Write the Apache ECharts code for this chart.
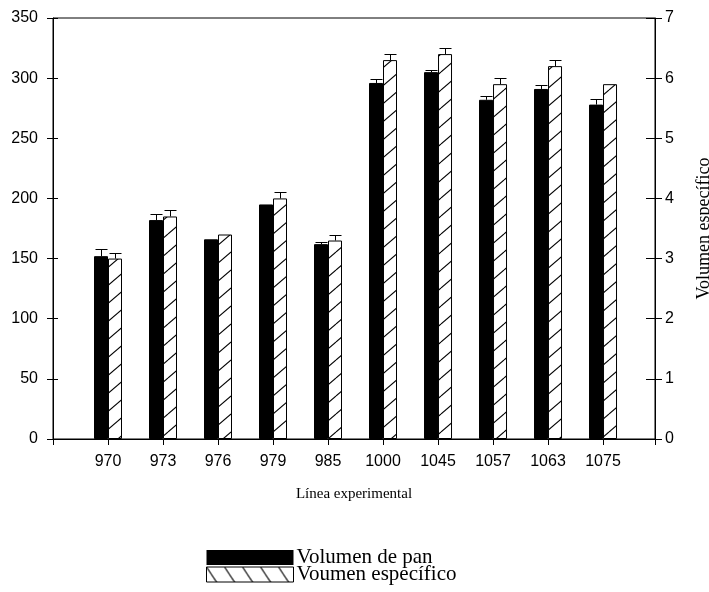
<!DOCTYPE html>
<html>
<head>
<meta charset="utf-8">
<script src="https://cdn.jsdelivr.net/npm/echarts@6/dist/echarts.min.js"></script>
<style>
html,body{margin:0;padding:0;background:#fff;}
#chart{width:709px;height:592px;}
</style>
</head>
<body>
<div id="chart"></div>
<script>
const categories = ['970','973','976','979','985','1000','1045','1057','1063','1075'];
const volPan = [152, 182, 166, 195, 162, 296, 305, 282, 291, 278];
const volPanErr = [6, 5, 0, 0, 2, 3, 1.5, 3, 3, 5];
const volEsp = [3.0, 3.7, 3.4, 4.0, 3.3, 6.3, 6.4, 5.9, 6.2, 5.9];
const volEspErr = [0.1, 0.1, 0, 0.1, 0.1, 0.1, 0.1, 0.1, 0.1, 0];
const leftTicks = [0, 350, 50];
const rightTicks = [0, 7, 1];

function hatch(w, h, back) {
  const c = document.createElement('canvas');
  c.width = w; c.height = h;
  const g = c.getContext('2d');
  g.fillStyle = '#fff';
  g.fillRect(0, 0, w, h);
  g.strokeStyle = '#000';
  g.lineWidth = 1.1;
  for (let k = -1; k <= 1; k++) {
    g.beginPath();
    if (!back) { g.moveTo(0, h + k * h); g.lineTo(w, k * h); }
    else { g.moveTo(0, k * h); g.lineTo(w, h + k * h); }
    g.stroke();
  }
  return c;
}
const barPattern = { image: hatch(21, 18, false), repeat: 'repeat' };
const legendPattern = { image: hatch(18, 27, true), repeat: 'repeat' };

const xMax = 10.945;
const panData = volPan.map((v, i) => [i + 1, v]);
const espData = volEsp.map((v, i) => [i + 1, v]);
const panErrData = volPan.map((v, i) => [i + 1, v, volPanErr[i]]);
const espErrData = volEsp.map((v, i) => [i + 1, v, volEspErr[i]]);

function errRender(offset) {
  return function (params, api) {
    const x = api.value(0), y = api.value(1), e = api.value(2);
    if (!e) return;
    const top = api.coord([x, y + e]);
    const base = api.coord([x, y]);
    const cx = Math.round(top[0] + offset) + 0.5;
    const ty = Math.round(top[1]) + 0.5;
    const st = { stroke: '#000', lineWidth: 1 };
    return {
      type: 'group',
      children: [
        { type: 'line', shape: { x1: cx, y1: base[1], x2: cx, y2: ty }, style: st },
        { type: 'line', shape: { x1: cx - 6, y1: ty, x2: cx + 6, y2: ty }, style: st }
      ]
    };
  };
}

const sans = 'Liberation Sans';
const serif = 'Liberation Serif';
const axisLineStyle = { color: '#000', width: 1 };

const chart = echarts.init(document.getElementById('chart'));
chart.setOption({
  animation: false,
  backgroundColor: '#fff',
  grid: { left: 53, right: 54, top: 18, bottom: 153, outerBoundsMode: 'none', containLabel: false, show: true, borderColor: '#000', borderWidth: 1, backgroundColor: 'transparent' },
  legend: {
    orient: 'vertical',
    left: 206, top: 547, padding: 0,
    itemWidth: 87, itemHeight: 15, itemGap: -4,
    textStyle: { fontFamily: serif, fontSize: 21, lineHeight: 17, color: '#000', padding: [0, 0, 0, -2] },
    data: [
      { name: 'Volumen de pan', icon: 'rect', itemStyle: { color: '#000', borderWidth: 0 } },
      { name: 'Voumen específico', icon: 'rect', itemStyle: { color: legendPattern, borderColor: '#000', borderWidth: 1 } }
    ]
  },
  xAxis: {
    type: 'value', min: 0, max: xMax, interval: 1,
    name: 'Línea experimental', nameLocation: 'middle', nameGap: 48,
    nameTextStyle: { fontFamily: serif, fontSize: 15, color: '#000' },
    axisLine: { show: true, lineStyle: axisLineStyle },
    axisTick: { show: true, length: 6, lineStyle: axisLineStyle },
    splitLine: { show: false },
    axisLabel: {
      fontFamily: sans, fontSize: 16, color: '#000', margin: 15,
      showMinLabel: true, showMaxLabel: true,
      formatter: function (v) {
        if (Math.abs(v - Math.round(v)) < 1e-6 && v >= 1 && v <= categories.length) return categories[Math.round(v) - 1];
        return '';
      }
    }
  },
  yAxis: [
    {
      type: 'value', position: 'left', min: leftTicks[0], max: leftTicks[1], interval: leftTicks[2],
      axisLine: { show: true, lineStyle: axisLineStyle },
      axisTick: { show: true, length: 6, lineStyle: axisLineStyle },
      splitLine: { show: false },
      axisLabel: { fontFamily: sans, fontSize: 16, color: '#000', margin: 15 }
    },
    {
      type: 'value', position: 'right', min: rightTicks[0], max: rightTicks[1], interval: rightTicks[2],
      name: 'Volumen específico', nameLocation: 'middle', nameGap: 40, nameRotate: 90,
      nameTextStyle: { fontFamily: serif, fontSize: 18, color: '#000' },
      axisLine: { show: true, lineStyle: axisLineStyle },
      axisTick: { show: true, length: 7, lineStyle: axisLineStyle },
      splitLine: { show: false },
      axisLabel: { fontFamily: sans, fontSize: 16, color: '#000', margin: 10 }
    },
    {
      type: 'value', position: 'left', min: leftTicks[0], max: leftTicks[1], interval: leftTicks[2],
      axisLine: { show: false },
      axisTick: { show: true, inside: true, length: 5, lineStyle: axisLineStyle },
      splitLine: { show: false },
      axisLabel: { show: false }
    },
    {
      type: 'value', position: 'right', min: rightTicks[0], max: rightTicks[1], interval: rightTicks[2],
      axisLine: { show: false },
      axisTick: { show: true, inside: true, length: 9, lineStyle: axisLineStyle },
      splitLine: { show: false },
      axisLabel: { show: false }
    }
  ],
  series: [
    {
      name: 'Volumen de pan', type: 'bar', yAxisIndex: 0, data: panData,
      barWidth: 14, barGap: '0%',
      itemStyle: { color: '#000', borderColor: '#000', borderWidth: 1 }
    },
    {
      name: 'Voumen específico', type: 'bar', yAxisIndex: 1, data: espData,
      barWidth: 14, barGap: '0%',
      itemStyle: { color: barPattern, borderColor: '#000', borderWidth: 1 }
    },
    {
      type: 'custom', yAxisIndex: 0, data: panErrData, renderItem: errRender(-7), z: 3, silent: true
    },
    {
      type: 'custom', yAxisIndex: 1, data: espErrData, renderItem: errRender(7), z: 3, silent: true
    }
  ]
});
</script>
</body>
</html>
